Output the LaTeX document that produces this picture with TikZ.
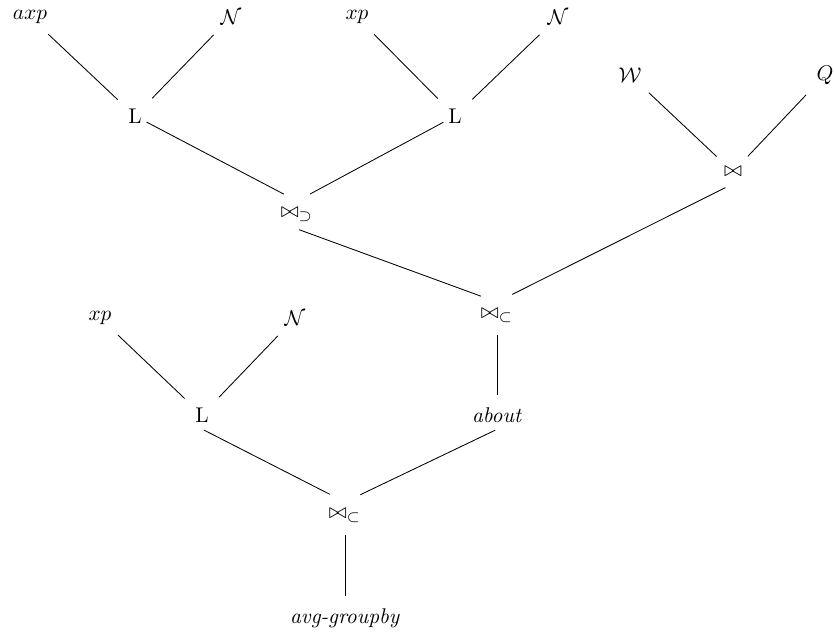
\documentclass[tikz,border=0pt]{standalone}
\usepackage{amssymb}
\begin{document}
\begin{tikzpicture}[x=1.65cm, y=1.65cm]
    \tikzstyle{op}=[inner sep=3pt]
    \tikzstyle{leaf}=[inner sep=3pt]
    \tikzstyle{link}=[shorten >=2.5pt, shorten <=2.5pt]
    \tikzstyle{up}=[shorten >=8pt, shorten <=1pt]

    \useasboundingbox (0,0) rectangle (8.34,6.33);

    \node[leaf] (axp) at (0.30, 6.16) {$axp$};
    \node[leaf] (n1) at (2.31, 6.16) {$\mathcal{N}$};
    \node[leaf] (xp1) at (3.57, 6.16) {$xp$};
    \node[leaf] (n2) at (5.58, 6.16) {$\mathcal{N}$};
    \node[op] (l1) at (1.35, 5.17) {L};
    \node[op] (l2) at (4.55, 5.17) {L};
    \node[leaf] (w) at (6.30, 5.58) {$\mathcal{W}$};
    \node[leaf] (q) at (8.25, 5.58) {$Q$};
    \node[op] (join) at (7.33, 4.61) {$\bowtie$};
    \node[op] (joinsup) at (2.97, 4.18) {$\bowtie_\supset$};
    \node[op] (joinsub) at (4.97, 3.17) {$\bowtie_\subset$};
    \node[leaf] (xp2) at (1.00, 3.15) {$xp$};
    \node[leaf] (n3) at (2.95, 3.15) {$\mathcal{N}$};
    \node[op] (l3) at (2.02, 2.18) {L};
    \node[op] (about) at (4.97, 2.18) {\textit{about}};
    \node[op] (root) at (3.45, 1.17) {$\bowtie_\subset$};
    \node[leaf] (avg) at (3.45, 0.15) {\textit{avg-groupby}};

    \path (axp) edge[link] (l1);
    \path (n1) edge[link] (l1);
    \path (xp1) edge[link] (l2);
    \path (n2) edge[link] (l2);
    \path (l1) edge[shorten >=7pt, shorten <=-1pt] (joinsup.north);
    \path (l2) edge[shorten >=7pt, shorten <=-1pt] (joinsup.north);
    \path (w) edge[link] (join);
    \path (q) edge[link] (join);
    \path (joinsup.south) edge[up] (joinsub.north);
    \path (join.south) edge[up, shorten <=4pt] (joinsub.north);
    \path (joinsub) edge[link] (about);
    \path (xp2) edge[link] (l3);
    \path (n3) edge[link] (l3);
    \path (l3.south) edge[up] (root.north);
    \path (about.south) edge[up] (root.north);
    \path (root) edge[link] (avg);
\end{tikzpicture}
\end{document}
